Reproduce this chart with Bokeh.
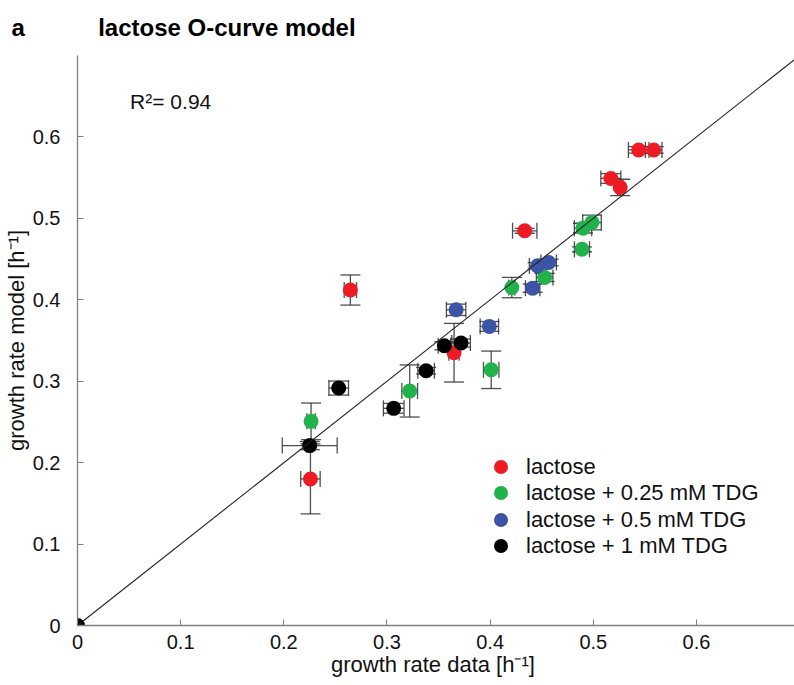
import numpy as np
from bokeh.plotting import figure
from bokeh.models import (ColumnDataSource, Whisker, TeeHead, Label, Legend, LegendItem,
                          Range1d, FixedTicker, Slope)
from bokeh.embed import file_html
from bokeh.resources import INLINE

# ---------------- data ----------------
series_names = ["lactose", "lactose + 0.25 mM TDG", "lactose + 0.5 mM TDG", "lactose + 1 mM TDG"]
series_colors = ["#ed1c24", "#22b24c", "#3b54a5", "#000000"]

lac_x = [0.2645, 0.365, 0.2258, 0.544, 0.5585, 0.517, 0.526, 0.4335]
lac_y = [0.412, 0.335, 0.180, 0.584, 0.584, 0.549, 0.538, 0.4847]
lac_xerr = [0.006, 0.005, 0.0094, 0.010, 0.008, 0.0097, 0.0025, 0.0118]
lac_yerr = [0.0185, 0.036, 0.043, 0.004, 0.004, 0.006, 0.010, 0.003]

tdg025_x = [0.421, 0.401, 0.322, 0.2264, 0.4987, 0.490, 0.489, 0.4528]
tdg025_y = [0.415, 0.314, 0.288, 0.2507, 0.4949, 0.488, 0.462, 0.4274]
tdg025_xerr = [0.003, 0.0075, 0.0076, 0.004, 0.009, 0.0084, 0.0073, 0.008]
tdg025_yerr = [0.0125, 0.023, 0.032, 0.0225, 0.009, 0.006, 0.003, 0.005]

tdg05_x = [0.367, 0.3992, 0.4567, 0.446, 0.4412]
tdg05_y = [0.3877, 0.3673, 0.4458, 0.4417, 0.4143]
tdg05_xerr = [0.0094, 0.0089, 0.0075, 0.008, 0.007]
tdg05_yerr = [0.007, 0.006, 0.004, 0.004, 0.005]

tdg1_x = [0.0, 0.3556, 0.3718, 0.3379, 0.2532, 0.3065, 0.2251]
tdg1_y = [0.0, 0.3436, 0.3469, 0.3129, 0.2916, 0.2667, 0.2209]
tdg1_xerr = [0.0, 0.006, 0.009, 0.008, 0.0095, 0.010, 0.0266]
tdg1_yerr = [0.0, 0.005, 0.005, 0.004, 0.0086, 0.006, 0.005]

tick_values = [0, 0.1, 0.2, 0.3, 0.4, 0.5, 0.6]
tick_labels = ["0", "0.1", "0.2", "0.3", "0.4", "0.5", "0.6"]
r2_text = "R\u00b2= 0.94"
panel_letter = "a"
title_text = "lactose O-curve model"
X_MAX = 0.695
Y_MAX = 0.70

FONT = "Liberation Sans"

p = figure(width=794, height=685, output_backend="svg", toolbar_location=None,
           x_range=Range1d(0, X_MAX), y_range=Range1d(0, Y_MAX),
           min_border_left=77, min_border_right=0, min_border_top=54, min_border_bottom=60)
p.outline_line_color = None
p.grid.visible = False
p.background_fill_color = "white"

# title (panel letter + title on one line)
p.title.text = panel_letter + "\u00a0" * 11 + title_text
p.title.align = "left"
p.title.offset = -66
p.title.vertical_align = "top"
p.title.text_font = FONT
p.title.text_font_size = "24px"
p.title.text_font_style = "bold"
p.title.text_color = "#000000"
p.title.standoff = 26

# diagonal y = x
p.add_layout(Slope(gradient=1, y_intercept=0, line_color="#222222", line_width=1.1))

series = [
    (lac_x, lac_y, lac_xerr, lac_yerr),
    (tdg025_x, tdg025_y, tdg025_xerr, tdg025_yerr),
    (tdg05_x, tdg05_y, tdg05_xerr, tdg05_yerr),
    (tdg1_x, tdg1_y, tdg1_xerr, tdg1_yerr),
]

renderers = []
for (xs, ys, xe, ye), col in zip(series, series_colors):
    r = p.scatter(x=xs, y=ys, size=15, fill_color=col, line_color=None)
    renderers.append(r)

# error bars
ebar_color = "#303030"
EB_W = 1.3
for (xs, ys, xe, ye) in series:
    xs_a = np.array(xs); ys_a = np.array(ys); xe_a = np.array(xe); ye_a = np.array(ye)
    mask_y = ye_a > 0
    src_y = ColumnDataSource(dict(base=xs_a[mask_y], lower=(ys_a - ye_a)[mask_y], upper=(ys_a + ye_a)[mask_y]))
    wy = Whisker(source=src_y, base="base", lower="lower", upper="upper", dimension="height",
                 line_color=ebar_color, line_width=EB_W, line_alpha=0.85,
                 upper_head=TeeHead(size=20, line_color=ebar_color, line_width=EB_W, line_alpha=0.85),
                 lower_head=TeeHead(size=20, line_color=ebar_color, line_width=EB_W, line_alpha=0.85))
    p.add_layout(wy)
    mask_x = xe_a > 0
    src_x = ColumnDataSource(dict(base=ys_a[mask_x], lower=(xs_a - xe_a)[mask_x], upper=(xs_a + xe_a)[mask_x]))
    wx = Whisker(source=src_x, base="base", lower="lower", upper="upper", dimension="width",
                 line_color=ebar_color, line_width=EB_W, line_alpha=0.85,
                 upper_head=TeeHead(size=16, line_color=ebar_color, line_width=EB_W, line_alpha=0.85),
                 lower_head=TeeHead(size=16, line_color=ebar_color, line_width=EB_W, line_alpha=0.85))
    p.add_layout(wx)

# axes
overrides = {(0 if v == 0 else v): lab for v, lab in zip(tick_values, tick_labels)}
for ax in (p.xaxis[0], p.yaxis[0]):
    ax.ticker = FixedTicker(ticks=tick_values)
    ax.major_label_overrides = overrides
    ax.axis_line_color = "#808080"
    ax.axis_line_width = 1.3
    ax.major_tick_line_color = "#808080"
    ax.major_tick_in = 6
    ax.major_tick_out = 0
    ax.minor_tick_line_color = None
    ax.major_label_text_font = FONT
    ax.major_label_text_font_size = "20px"
    ax.major_label_text_color = "#111111"
    ax.axis_label_text_font = FONT
    ax.axis_label_text_font_size = "22px"
    ax.axis_label_text_font_style = "normal"
    ax.axis_label_text_color = "#111111"

p.xaxis.axis_label = "growth rate data  [h\u207b\u00b9]"
p.yaxis.axis_label = "growth rate model [h\u207b\u00b9]"
p.xaxis.major_label_standoff = 9
p.xaxis.axis_label_standoff = 0
p.yaxis.major_label_standoff = 17
p.yaxis.axis_label_standoff = 1

# legend: one single-item legend per row
legend_bottoms = [141, 115, 88, 62]
for name, r, vb in zip(series_names, renderers, legend_bottoms):
    lg = Legend(items=[LegendItem(label=name, renderers=[r])], location=(406, vb),
                padding=0, margin=0, spacing=0,
                glyph_width=35, glyph_height=35, label_standoff=8,
                label_text_font=FONT, label_text_font_size="22px", label_text_color="#111111",
                border_line_alpha=0, background_fill_alpha=0)
    p.add_layout(lg, "center")

# R^2 text
p.add_layout(Label(x=0.051, y=0.643, text=r2_text, text_font=FONT, text_font_size="21px",
                   text_color="#111111", text_baseline="alphabetic"))

open("out.html", "w").write(file_html(p, INLINE))
